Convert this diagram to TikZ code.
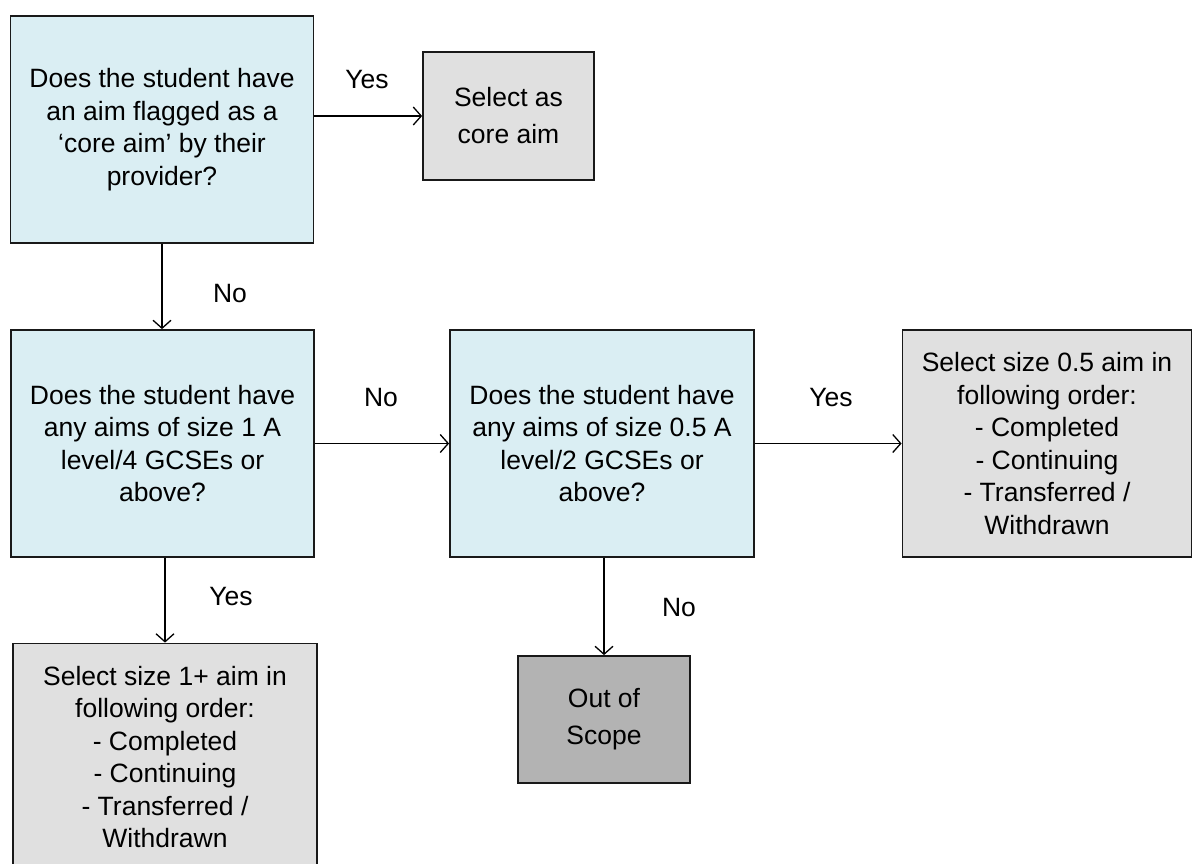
\documentclass[tikz,border=0pt]{standalone}
\usepackage{fontspec}
\setmainfont{Liberation Sans}
\usetikzlibrary{arrows.meta}
\definecolor{qblue}{RGB}{218,238,243}
\definecolor{sgray}{RGB}{224,224,224}
\definecolor{ogray}{RGB}{179,179,179}
\tikzset{
  qbox/.style={draw=black!90,line width=1.8pt,fill=qblue,align=center,inner sep=0pt,
    minimum width=303pt,minimum height=227pt,font=\fontsize{26.5}{32.5}\selectfont},
  sbox/.style={qbox,fill=sgray},
  obox/.style={qbox,fill=ogray,minimum width=172pt,minimum height=127pt,
    font=\fontsize{26.5}{37}\selectfont},
  lbl/.style={anchor=base,inner sep=0pt,font=\fontsize{26.5}{30}\selectfont},
  conn/.style={line width=1.3pt,-{Straight Barb[length=8pt,width=18pt,line width=1.3pt]}}
}
\begin{document}
\begin{tikzpicture}[x=1pt,y=-1pt]
 \useasboundingbox (0,0) rectangle (1193,863);
 % questions
 \node[qbox] (core) at (162,129.5) {Does the student have\\an aim flagged as a\\`core aim' by their\\provider?};
 \node[qbox] (one) at (162.5,443.5) {Does the student have\\any aims of size 1 A\\level/4 GCSEs or\\above?};
 \node[qbox,minimum width=304pt] (half) at (602,443.5) {Does the student have\\any aims of size 0.5 A\\level/2 GCSEs or\\above?};
 % outcomes
 \node[obox,fill=sgray,minimum width=171pt,minimum height=128pt] (selcore) at (508.5,116) {Select as\\core aim};
 \node[sbox,minimum width=289pt] (selhalf) at (1047,443.5) {Select size 0.5 aim in\\following order:\\- Completed\\- Continuing\\- Transferred /\\Withdrawn};
 \node[sbox,minimum width=304pt] (selone) at (165,757) {Select size 1+ aim in\\following order:\\- Completed\\- Continuing\\- Transferred /\\Withdrawn};
 \node[obox] (out) at (604,719.5) {Out of\\Scope};
 % connectors
 \draw[conn] (core.east |- selcore.west) -- (selcore.west);
 \draw[conn] (core.south) -- (core.south |- one.north);
 \draw[conn] (one.east) -- (half.west);
 \draw[conn] (half.east) -- (selhalf.west);
 \draw[conn] (selone.north |- one.south) -- (selone.north);
 \draw[conn] (out.north |- half.south) -- (out.north);
 % labels
 \node[lbl] (y1) at (367,88) {Yes};
 \node[lbl] (n1) at (230,302) {No};
 \node[lbl] (n2) at (381,406) {No};
 \node[lbl] (y2) at (831,406) {Yes};
 \node[lbl] (y3) at (231,605) {Yes};
 \node[lbl] (n3) at (679,616) {No};
\end{tikzpicture}
\end{document}
